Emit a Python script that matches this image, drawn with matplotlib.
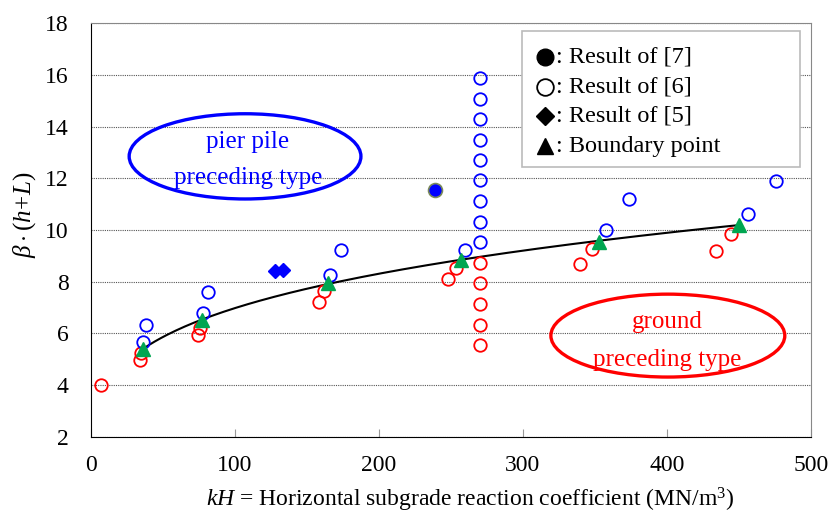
import numpy as np
import matplotlib
matplotlib.use('Agg')
import matplotlib.pyplot as plt
from matplotlib.patches import Ellipse, Rectangle

plt.rcParams['font.family'] = ['Liberation Serif', 'DejaVu Serif']
plt.rcParams['mathtext.fontset'] = 'custom'
plt.rcParams['mathtext.rm'] = 'Liberation Serif'
plt.rcParams['mathtext.it'] = 'Liberation Serif:italic'

# red open circles (ground preceding), result of [6]
red_x = [6.7, 34, 35, 74, 75.5, 158.6, 162, 247.7, 253.5, 339.4, 348, 434, 444.4,
         270, 270, 270, 270, 270]
red_y = [4.0, 4.95, 5.25, 5.95, 6.2, 7.2, 7.64, 8.1, 8.52, 8.67, 9.25, 9.2, 9.83,
         8.74, 7.96, 7.13, 6.33, 5.56]

# blue open circles (pier pile preceding), result of [6]
blue_x = [36.4, 38, 77.8, 81, 166, 173.6, 259.8, 358, 373.5, 456.6, 476,
          270, 270, 270, 270, 270, 270, 270, 270, 270]
blue_y = [5.65, 6.32, 6.8, 7.6, 8.26, 9.23, 9.22, 9.99, 11.2, 10.63, 11.9,
          15.89, 15.07, 14.28, 13.48, 12.69, 11.92, 11.12, 10.31, 9.52]

# result of [7]
ref7_x = [239]
ref7_y = [11.55]

# result of [5]
ref5_x = [128, 133.5]
ref5_y = [8.4, 8.45]

# boundary points
bnd_x = [36, 77, 164.5, 257, 353, 450]
bnd_y = [5.4, 6.5, 7.95, 8.85, 9.55, 10.2]

legend_labels = [': Result of [7]', ': Result of [6]', ': Result of [5]', ': Boundary point']

fig = plt.figure(figsize=(8.35, 5.19), dpi=100)
ax = fig.add_axes([0.109, 0.1588, 0.862, 0.7962])

# power-law trend through boundary points
p = np.polyfit(np.log(bnd_x), np.log(bnd_y), 1)
xs = np.linspace(min(bnd_x), max(bnd_x), 200)
ax.plot(xs, np.exp(p[1]) * xs ** p[0], color='black', lw=1.5, zorder=3)

ax.plot(red_x, red_y, 'o', mfc='none', mec='#ff0000', ms=9, mew=1.3, zorder=4)
ax.plot(blue_x, blue_y, 'o', mfc='none', mec='#0000ff', ms=9, mew=1.3, zorder=4)
ax.plot(ref7_x, ref7_y, 'o', mfc='#0000ff', mec='#7a8a5a', ms=10, mew=1.2, zorder=4)
ax.plot(ref5_x, ref5_y, 'D', mfc='#0000ff', mec='#0000ff', ms=7.5, zorder=4)
ax.plot(bnd_x, bnd_y, '^', mfc='#00a651', mec='#00a651', ms=10, zorder=5)

# region ellipses
ax.add_patch(Ellipse((107, 12.85), 161, 3.3, fill=False, ec='#0000ff', lw=2.4, zorder=2))
ax.text(109, 13.42, 'pier pile', color='#0000ff', fontsize=18, ha='center', va='center')
ax.text(109, 12.0, 'preceding type', color='#0000ff', fontsize=18, ha='center', va='center')
ax.add_patch(Ellipse((400.7, 5.91), 162.5, 3.21, fill=False, ec='#ff0000', lw=2.4, zorder=2))
ax.text(400, 6.45, 'ground', color='#ff0000', fontsize=18, ha='center', va='center')
ax.text(400, 4.97, 'preceding type', color='#ff0000', fontsize=18, ha='center', va='center')

ax.set_xlim(0, 500)
ax.set_ylim(2, 18)
ax.set_xticks(np.arange(0, 501, 100))
ax.set_yticks(np.arange(2, 19, 2))
ax.tick_params(axis='x', direction='in', length=6, color='#999999', labelsize=17, pad=13)
ax.tick_params(axis='y', length=0, labelsize=17, pad=16)
ax.yaxis.grid(True, linestyle=(0, (1, 1)), color='#555555', lw=0.8)
ax.set_axisbelow(True)
for s in ['top', 'right']:
    ax.spines[s].set_color('#888888')
for s in ['left', 'bottom']:
    ax.spines[s].set_color('black')

ax.set_xlabel(r'$kH$ = Horizontal subgrade reaction coefficient (MN/m$^3$)', fontsize=17)
ax.xaxis.set_label_coords(0.527, -0.12)
ax.set_ylabel(r'$\beta\cdot(h\!+\!L)$', fontsize=18)
ax.yaxis.set_label_coords(-0.073, 0.536)

# legend box drawn by hand (wide frame with empty right part)
ax.add_patch(Rectangle((0.599, 0.6516), 0.3867, 0.3305, transform=ax.transAxes,
                       fc='white', ec='#bbbbbb', lw=1.2, zorder=6))
rows = [0.9192, 0.8466, 0.7757, 0.7031]
styles = [dict(marker='o', mfc='black', mec='black', ms=12),
          dict(marker='o', mfc='none', mec='black', ms=12, mew=1.3),
          dict(marker='D', mfc='black', mec='black', ms=9),
          dict(marker='^', mfc='black', mec='black', ms=11)]
for yr, st, lab in zip(rows, styles, legend_labels):
    ax.plot([0.6305], [yr], ls='none', transform=ax.transAxes, zorder=7, clip_on=False, **st)
    ax.text(0.6455, yr, lab, transform=ax.transAxes, fontsize=17.5, ha='left', va='center', zorder=7)

fig.savefig('out.png', dpi=100)
